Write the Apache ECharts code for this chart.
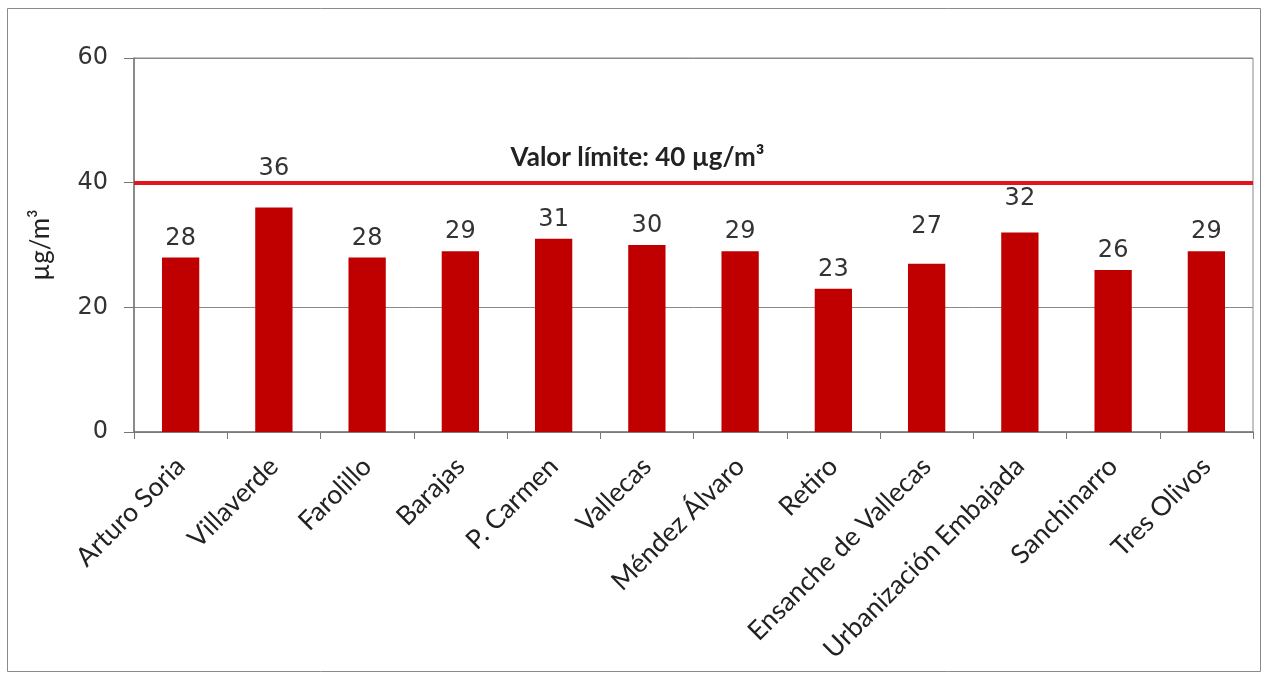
<!DOCTYPE html>
<html>
<head>
<meta charset="utf-8">
<script src="https://cdn.jsdelivr.net/npm/echarts@6/dist/echarts.min.js"></script>
<style>
  html, body { margin: 0; padding: 0; background: #fff; }
  #chart { width: 1263px; height: 675px; }
</style>
</head>
<body>
<div id="chart"></div>
<script>
// estaciones y concentración media (µg/m³)
const stations = ['Arturo Soria', 'Villaverde', 'Farolillo', 'Barajas', 'P. Carmen', 'Vallecas',
  'Méndez Álvaro', 'Retiro', 'Ensanche de Vallecas', 'Urbanización Embajada', 'Sanchinarro', 'Tres Olivos']
const values = [28, 36, 28, 29, 31, 30, 29, 23, 27, 32, 26, 29]
const limitValue = 40
const limitText = 'Valor límite: 40 µg/m³'
const yTicks = [0, 20, 40, 60]

// etiquetas que en el original están más arriba
const liftedLabels = { 'Villaverde': 20, 'Ensanche de Vallecas': 18, 'Urbanización Embajada': 15 }

const chart = echarts.init(document.getElementById('chart'))

const option = {
  animation: false,
  backgroundColor: '#fff',
  graphic: [{
    type: 'rect',
    shape: { x: 7.5, y: 8.5, width: 1253, height: 663 },
    style: { fill: 'none', stroke: '#8a8a8a', lineWidth: 1 },
    silent: true
  }],
  grid: {
    left: 134,
    right: 10,
    top: 58,
    bottom: 243,
    show: true,
    borderColor: '#8a8a8a',
    borderWidth: 1
  },
  xAxis: {
    type: 'category',
    data: stations,
    axisLine: { lineStyle: { color: '#777', width: 1.5 } },
    axisTick: { show: true, length: 7, lineStyle: { color: '#777' } },
    axisLabel: {
      rotate: 45,
      margin: 30,
      interval: 0,
      fontFamily: 'Lato',
      fontSize: 26.5,
      color: '#222'
    }
  },
  yAxis: {
    type: 'value',
    min: yTicks[0],
    max: yTicks[yTicks.length - 1],
    interval: 20,
    name: 'µg/m³',
    nameLocation: 'middle',
    nameGap: 80,
    nameTextStyle: { fontFamily: 'Lato', fontSize: 26, color: '#222' },
    axisLine: { show: true, lineStyle: { color: '#777', width: 1.5 } },
    axisTick: { show: true, length: 10, lineStyle: { color: '#777' } },
    axisLabel: { margin: 26, fontFamily: 'DejaVu Sans', fontSize: 24, color: '#333' },
    splitLine: { show: true, lineStyle: { color: '#8a8a8a', width: 1 } }
  },
  series: [{
    type: 'bar',
    barWidth: '40%',
    itemStyle: { color: '#C00000' },
    label: {
      show: true,
      position: 'top',
      distance: 7,
      fontFamily: 'DejaVu Sans',
      fontSize: 24,
      color: '#333'
    },
    data: values.map((v, i) => {
      const lift = liftedLabels[stations[i]]
      return lift ? { value: v, label: { offset: [0, -lift] } } : v
    }),
    markLine: {
      silent: true,
      symbol: 'none',
      lineStyle: { color: '#E3141B', width: 4, type: 'solid' },
      label: {
        show: true,
        position: 'insideMiddleTop',
        formatter: limitText,
        offset: [-56, -7],
        fontFamily: 'Lato',
        fontWeight: 'bold',
        fontSize: 26,
        color: '#222'
      },
      data: [{ yAxis: limitValue }]
    }
  }]
}

chart.setOption(option)
</script>
</body>
</html>
